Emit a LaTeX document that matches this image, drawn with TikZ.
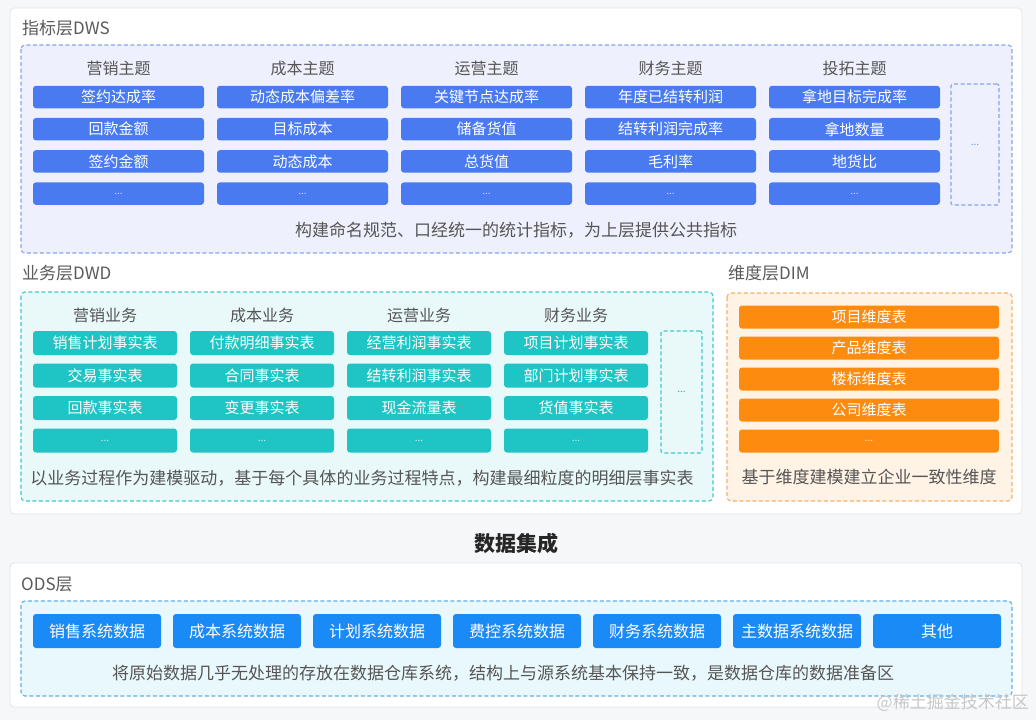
\documentclass[tikz,border=0pt]{standalone}
\usepackage{fontspec}
\setmainfont{Noto Sans CJK SC}
\newcommand\fsz[1]{\fontsize{#1}{#1}\selectfont}
\definecolor{bg}{HTML}{F6F7F9}
\definecolor{panelline}{HTML}{E2E4E8}
\definecolor{titlegray}{HTML}{5A5A5A}
\definecolor{headgray}{HTML}{555555}
\definecolor{dwsblue}{HTML}{4A7AF0}
\definecolor{dwsfill}{HTML}{EEF1FD}
\definecolor{dwsline}{HTML}{86A3F3}
\definecolor{dwdteal}{HTML}{1FC5C5}
\definecolor{dwdfill}{HTML}{E9F9F9}
\definecolor{dwdline}{HTML}{40C8C8}
\definecolor{dimorange}{HTML}{FD8B10}
\definecolor{dimfill}{HTML}{FFF3E6}
\definecolor{dimline}{HTML}{F8B064}
\definecolor{odsblue}{HTML}{1A8AF7}
\definecolor{odsfill}{HTML}{E9F8FC}
\definecolor{odsline}{HTML}{5CB0EF}
\tikzset{
  panelbox/.style={fill=white, draw=panelline, rounded corners=4pt, line width=0.8pt},
  dbox/.style={rounded corners=4pt, dash pattern=on 4pt off 2.5pt, line width=1.1pt},
  ttl/.style={anchor=west, text=titlegray, font=\fsz{17}, inner sep=0},
  hdr/.style={text=headgray, font=\fsz{16}, inner sep=0},
  captxt/.style={text=headgray, font=\fsz{17}, inner sep=0},
  cell/.style={rounded corners=3pt, text=white, inner sep=0, font=\fsz{15}},
  dwsc/.style={cell, fill=dwsblue, minimum width=171pt, minimum height=22.5pt},
  dwdc/.style={cell, fill=dwdteal, minimum width=144pt, minimum height=24pt},
  dimc/.style={cell, fill=dimorange, minimum width=260pt, minimum height=23pt},
  odsc/.style={cell, fill=odsblue, minimum width=128pt, minimum height=34pt, font=\fsz{16}},
  moretxt/.style={font=\fsz{10}},
}
\begin{document}
\begin{tikzpicture}[x=1pt,y=-1pt]
\path[use as bounding box, fill=bg] (0,0) rectangle (1036,720);

% ---------- top panel ----------
\draw[panelbox] (10,8) rectangle (1022,514);
\node[ttl] (tdws) at (22,28) {指标层DWS};
\draw[dbox, fill=dwsfill, draw=dwsline] (21,45) rectangle (1012,253);
\foreach \h/\a/\b/\c [count=\i from 0] in
  {营销主题/签约达成率/回款金额/签约金额,
   成本主题/动态成本偏差率/目标成本/动态成本,
   运营主题/关键节点达成率/储备货值/总货值,
   财务主题/年度已结转利润/结转利润完成率/毛利率,
   投拓主题/拿地目标完成率/拿地数量/地货比}{
  \pgfmathsetmacro\cx{118.5+184*\i}
  \node[hdr] (dwsh\i) at (\cx,68) {\h};
  \node[dwsc] (dws\i a) at (\cx,97) {\a};
  \node[dwsc] (dws\i b) at (\cx,129.2) {\b};
  \node[dwsc] (dws\i c) at (\cx,161.4) {\c};
  \node[dwsc, text=white!75!dwsblue, moretxt] (dws\i d) at (\cx,193.6) {...};
}
\node[draw=dwsline, dbox, rounded corners=2pt, minimum width=48pt, minimum height=121pt,
      text=dwsblue!80, moretxt, inner sep=0] (dwsmore) at (975,144.5) {...};
\node[captxt] (capdws) at (516,230) {构建命名规范、口经统一的统计指标，为上层提供公共指标};

% ---------- DWD ----------
\node[ttl] (tdwd) at (22,273) {业务层DWD};
\draw[dbox, fill=dwdfill, draw=dwdline] (21,292) rectangle (713,501);
\foreach \h/\a/\b/\c [count=\i from 0] in
  {营销业务/销售计划事实表/交易事实表/回款事实表,
   成本业务/付款明细事实表/合同事实表/变更事实表,
   运营业务/经营利润事实表/结转利润事实表/现金流量表,
   财务业务/项目计划事实表/部门计划事实表/货值事实表}{
  \pgfmathsetmacro\cx{105+157*\i}
  \node[hdr] (dwdh\i) at (\cx,315) {\h};
  \node[dwdc] (dwd\i a) at (\cx,343) {\a};
  \node[dwdc] (dwd\i b) at (\cx,375.5) {\b};
  \node[dwdc] (dwd\i c) at (\cx,408) {\c};
  \node[dwdc, text=white!75!dwdteal, moretxt] (dwd\i d) at (\cx,440.5) {...};
}
\node[draw=dwdline, dbox, rounded corners=2pt, minimum width=41pt, minimum height=122pt,
      text=dwdteal!90!black, moretxt, inner sep=0] (dwdmore) at (681.5,392) {...};
\node[captxt] (capdwd) at (362,478) {以业务过程作为建模驱动，基于每个具体的业务过程特点，构建最细粒度的明细层事实表};

% ---------- DIM ----------
\node[ttl] (tdim) at (728,273) {维度层DIM};
\draw[dbox, fill=dimfill, draw=dimline] (727,293) rectangle (1012,501);
\node[dimc] (dim0) at (869,317) {项目维度表};
\node[dimc] (dim1) at (869,348) {产品维度表};
\node[dimc] (dim2) at (869,379) {楼标维度表};
\node[dimc] (dim3) at (869,410) {公司维度表};
\node[dimc, text=white!75!dimorange, moretxt] (dim4) at (869,441) {...};
\node[captxt] (capdim) at (869,477) {基于维度建模建立企业一致性维度};

% ---------- 数据集成 ----------
\node[text=black!85, font=\fsz{21}\bfseries, inner sep=0] (integ) at (516,543) {数据集成};

% ---------- ODS ----------
\draw[panelbox] (10,563) rectangle (1022,707);
\node[ttl] (tods) at (21,585) {ODS层};
\draw[dbox, fill=odsfill, draw=odsline] (21,601) rectangle (1012,696);
\foreach \t [count=\i from 0] in
  {销售系统数据,成本系统数据,计划系统数据,费控系统数据,财务系统数据,主数据系统数据,其他}{
  \pgfmathsetmacro\cx{97+140*\i}
  \node[odsc] (ods\i) at (\cx,631) {\t};
}
\node[captxt] (capods) at (503,673) {将原始数据几乎无处理的存放在数据仓库系统，结构上与源系统基本保持一致，是数据仓库的数据准备区};

% watermark
\node[anchor=east, text=black!22, font=\fsz{17}, inner sep=0] (wm) at (1029,703) {@稀土掘金技术社区};
\end{tikzpicture}
\end{document}
